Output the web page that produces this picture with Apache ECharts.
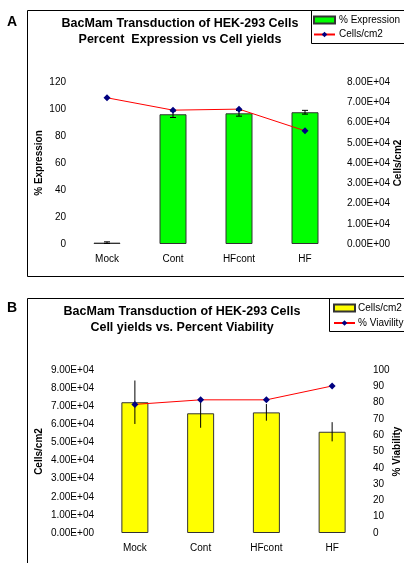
<!DOCTYPE html>
<html>
<head>
<meta charset="utf-8">
<script src="https://cdn.jsdelivr.net/npm/echarts@6/dist/echarts.min.js"></script>
<style>
html,body{margin:0;padding:0;background:#fff;}
#chart{width:404px;height:563px;}
</style>
</head>
<body>
<div id="chart"></div>
<script>
// ---- data ----
const categories = ['Mock', 'Cont', 'HFcont', 'HF'];
const expression = [1, 96.1, 96.8, 97.6];          // % Expression (panel A bars)
const expressionErr = [0.6, 2.4, 2.1, 1.4];
const cellsPerCm2 = [72200, 66100, 66600, 55900];   // Cells/cm2 (A line, B bars)
const cellsErr = [12000, 8000, 4600, 5300];
const viability = [78.9, 81.7, 81.7, 90.2];          // % Viability (panel B line)
const expressionTicks = {min: 0, max: 120, interval: 20};
const cellsTicksA = {min: 0, max: 80000, interval: 10000};
const cellsTicksB = {min: 0, max: 90000, interval: 10000};
const viabilityTicks = {min: 0, max: 100, interval: 10};

const FONT = 'Liberation Sans, Arial, sans-serif';

function sci(v) {
  if (v === 0) return '0.00E+00';
  const e = Math.floor(Math.log10(v) + 1e-9);
  const m = v / Math.pow(10, e);
  return m.toFixed(2) + 'E+' + String(e).padStart(2, '0');
}

function errRender(capHalf) {
  return function (params, api) {
    const x = api.value(0);
    const lo = api.coord([x, api.value(1)]);
    const hi = api.coord([x, api.value(2)]);
    const style = {stroke: '#000', lineWidth: 1};
    const children = [{type: 'line', shape: {x1: lo[0], y1: lo[1], x2: hi[0], y2: hi[1]}, style: style}];
    if (capHalf > 0) {
      children.push({type: 'line', shape: {x1: lo[0] - capHalf, y1: lo[1], x2: lo[0] + capHalf, y2: lo[1]}, style: style});
      children.push({type: 'line', shape: {x1: hi[0] - capHalf, y1: hi[1], x2: hi[0] + capHalf, y2: hi[1]}, style: style});
    }
    return {type: 'group', children: children};
  };
}

const axisLabel = {color: '#000', fontSize: 10, fontFamily: FONT};
const nameStyle = {color: '#000', fontSize: 10, fontWeight: 'bold', fontFamily: FONT};
const noLines = {axisLine: {show: false}, axisTick: {show: false}, splitLine: {show: false}, nameMoveOverlap: false};

const chart = echarts.init(document.getElementById('chart'), null, {renderer: 'canvas'});
chart.setOption({
  animation: false,
  backgroundColor: '#fff',
  textStyle: {fontFamily: FONT},
  title: [
    {text: 'BacMam Transduction of HEK-293 Cells\nPercent  Expression vs Cell yields', left: 180, top: 16, textAlign: 'center', padding: 0,
     textStyle: {fontSize: 12.5, fontWeight: 'bold', lineHeight: 16, color: '#000', fontFamily: FONT}},
    {text: 'BacMam Transduction of HEK-293 Cells\nCell yields vs. Percent Viability', left: 182, top: 304, textAlign: 'center', padding: 0,
     textStyle: {fontSize: 12.5, fontWeight: 'bold', lineHeight: 16, color: '#000', fontFamily: FONT}}
  ],
  legend: [
    {data: [{name: '% Expression', icon: 'rect'}, 'Cells/cm2'], orient: 'vertical', left: 313, top: 15, padding: 0, itemGap: 4.5,
     itemWidth: 21, itemHeight: 7, textStyle: {fontSize: 10, color: '#000', fontFamily: FONT, padding: [0, 0, 0, -1]}},
    {data: [{name: 'Cells/cm2 ', icon: 'rect'}, '% Viavility'], orient: 'vertical', left: 333, top: 303, padding: 0, itemGap: 5,
     itemWidth: 21, itemHeight: 7, textStyle: {fontSize: 10, color: '#000', fontFamily: FONT, padding: [0, 0, 0, -2]}}
  ],
  grid: [
    {left: 74, top: 82, width: 264, height: 162, containLabel: false, outerBoundsMode: 'none'},
    {left: 102, top: 370, width: 263, height: 163, containLabel: false, outerBoundsMode: 'none'}
  ],
  xAxis: [
    Object.assign({type: 'category', gridIndex: 0, data: categories, axisLabel: Object.assign({margin: 10}, axisLabel)}, noLines),
    Object.assign({type: 'category', gridIndex: 1, data: categories, axisLabel: Object.assign({margin: 10}, axisLabel)}, noLines)
  ],
  yAxis: [
    Object.assign({type: 'value', gridIndex: 0, position: 'left', min: expressionTicks.min, max: expressionTicks.max, interval: expressionTicks.interval,
      name: '% Expression', nameLocation: 'middle', nameGap: 30, nameTextStyle: nameStyle,
      axisLabel: Object.assign({margin: 8}, axisLabel)}, noLines),
    Object.assign({type: 'value', gridIndex: 0, position: 'right', min: cellsTicksA.min, max: cellsTicksA.max, interval: cellsTicksA.interval,
      name: 'Cells/cm2', nameLocation: 'middle', nameGap: 55, nameTextStyle: nameStyle,
      axisLabel: Object.assign({margin: 9, formatter: sci}, axisLabel)}, noLines),
    Object.assign({type: 'value', gridIndex: 1, position: 'left', min: cellsTicksB.min, max: cellsTicksB.max, interval: cellsTicksB.interval,
      name: 'Cells/cm2', nameLocation: 'middle', nameGap: 58, nameTextStyle: nameStyle,
      axisLabel: Object.assign({margin: 8, formatter: sci}, axisLabel)}, noLines),
    Object.assign({type: 'value', gridIndex: 1, position: 'right', min: viabilityTicks.min, max: viabilityTicks.max, interval: viabilityTicks.interval,
      name: '% Viability', nameLocation: 'middle', nameGap: 27, nameTextStyle: nameStyle,
      axisLabel: Object.assign({margin: 8}, axisLabel)}, noLines)
  ],
  series: [
    {name: '% Expression', type: 'bar', xAxisIndex: 0, yAxisIndex: 0, data: expression, barWidth: 27, z: 2,
     itemStyle: {color: '#00ff00', borderColor: '#333', borderWidth: 1}},
    {name: 'expErr', type: 'custom', xAxisIndex: 0, yAxisIndex: 0, z: 3, renderItem: errRender(3),
     data: expression.map((v, i) => [i, v - expressionErr[i], v + expressionErr[i]])},
    {name: 'Cells/cm2', type: 'line', xAxisIndex: 0, yAxisIndex: 1, data: cellsPerCm2, z: 4,
     symbol: 'diamond', symbolSize: 7, lineStyle: {color: '#ff0000', width: 1}, itemStyle: {color: '#000080'}},
    {name: 'Cells/cm2 ', type: 'bar', xAxisIndex: 1, yAxisIndex: 2, data: cellsPerCm2, barWidth: 27, z: 2,
     itemStyle: {color: '#ffff00', borderColor: '#333', borderWidth: 1}},
    {name: 'cellsErr', type: 'custom', xAxisIndex: 1, yAxisIndex: 2, z: 3, renderItem: errRender(0),
     data: cellsPerCm2.map((v, i) => [i, v - cellsErr[i], v + cellsErr[i]])},
    {name: '% Viavility', type: 'line', xAxisIndex: 1, yAxisIndex: 3, data: viability, z: 4,
     symbol: 'diamond', symbolSize: 7, lineStyle: {color: '#ff0000', width: 1}, itemStyle: {color: '#000080'}}
  ],
  graphic: [
    {type: 'rect', shape: {x: 27.5, y: 10.5, width: 400, height: 266}, style: {fill: null, stroke: '#000', lineWidth: 1}, z: -1},
    {type: 'rect', shape: {x: 311.5, y: 10.5, width: 120, height: 33}, style: {fill: null, stroke: '#000', lineWidth: 1}, z: -1},
    {type: 'rect', shape: {x: 27.5, y: 298.5, width: 400, height: 300}, style: {fill: null, stroke: '#000', lineWidth: 1}, z: -1},
    {type: 'rect', shape: {x: 329.5, y: 298.5, width: 120, height: 33}, style: {fill: null, stroke: '#000', lineWidth: 1}, z: -1},
    {type: 'text', left: 7, top: 15, style: {text: 'A', fontSize: 14, fontWeight: 'bold', fill: '#000', fontFamily: FONT}},
    {type: 'text', left: 7, top: 301, style: {text: 'B', fontSize: 14, fontWeight: 'bold', fill: '#000', fontFamily: FONT}}
  ]
});
</script>
</body>
</html>
